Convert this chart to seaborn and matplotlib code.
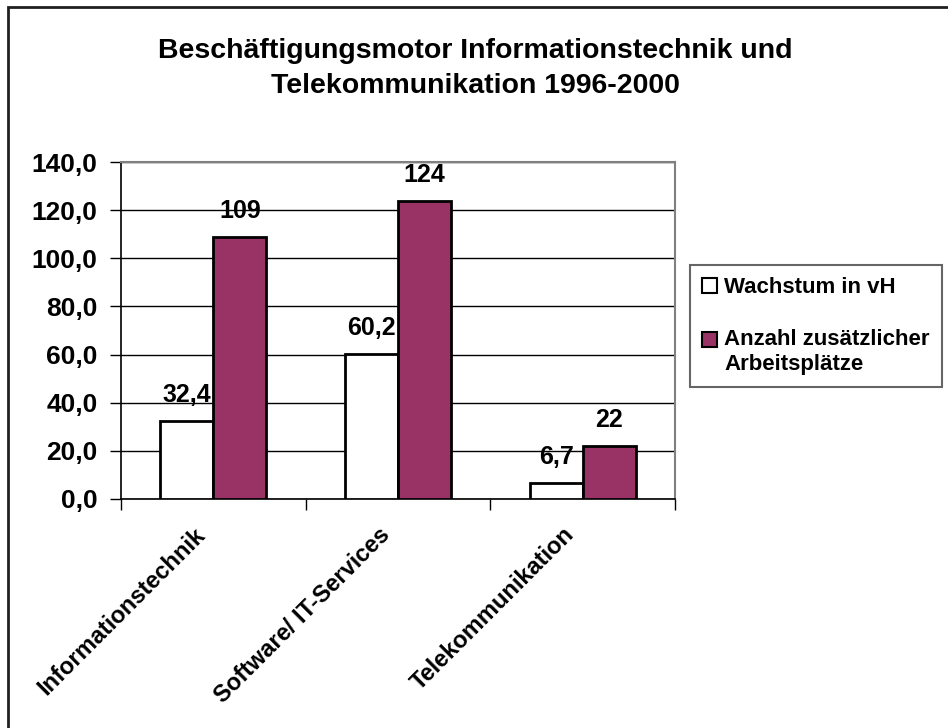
import matplotlib
matplotlib.use("Agg")
import matplotlib.pyplot as plt
import matplotlib.transforms as mtransforms
import pandas as pd
import seaborn as sns
from matplotlib.patches import Patch, Rectangle
from matplotlib.ticker import FuncFormatter

# data
categories = ["Informationstechnik", "Software/ IT-Services", "Telekommunikation"]
series = ["Wachstum in vH", "Anzahl zusätzlicher\nArbeitsplätze"]
wachstum = [32.4, 60.2, 6.7]
arbeitsplaetze = [109, 124, 22]
colors = ["#FFFFFF", "#993366"]

df = pd.DataFrame({
    "kategorie": categories * 2,
    "reihe": [series[0]] * 3 + [series[1]] * 3,
    "wert": wachstum + arbeitsplaetze,
})

sns.set_style("white")
plt.rcParams["font.family"] = ["Liberation Sans", "DejaVu Sans"]
plt.rcParams["font.weight"] = "bold"
plt.rcParams["text.color"] = "black"
plt.rcParams["xtick.color"] = "black"
plt.rcParams["ytick.color"] = "black"
plt.rcParams["axes.labelcolor"] = "black"

fig = plt.figure(figsize=(9.48, 7.28), dpi=100)
ax = fig.add_axes([121 / 948, 1 - 499 / 728, (675 - 121) / 948, (499 - 162) / 728])

sns.barplot(data=df, x="kategorie", y="wert", hue="reihe", order=categories,
            hue_order=series, palette=colors, width=0.573, gap=0,
            edgecolor="black", linewidth=2, saturation=1, legend=False, ax=ax, zorder=3)

ax.set_ylim(0, 140)
ax.set_xlim(-0.5, 2.5)
ax.set_yticks(range(0, 141, 20))
ax.yaxis.set_major_formatter(FuncFormatter(lambda v, p: f"{v:.1f}".replace(".", ",")))
ax.grid(axis="y", color="black", lw=1, zorder=0)
ax.set_xlabel("")
ax.set_ylabel("")

# value labels
fmt_a = [f"{v:.1f}".replace(".", ",") for v in wachstum]
fmt_b = [f"{v:.0f}" for v in arbeitsplaetze]
ax.bar_label(ax.containers[0], labels=fmt_a, padding=10, fontsize=18, fontweight="bold")
ax.bar_label(ax.containers[1], labels=fmt_b, padding=10, fontsize=18, fontweight="bold")

# axis styling like the old Excel chart
for s in ["top", "right"]:
    ax.spines[s].set_color("#808080")
    ax.spines[s].set_linewidth(1.5)
for s in ["left", "bottom"]:
    ax.spines[s].set_color("black")
    ax.spines[s].set_linewidth(1.2)

ax.tick_params(axis="y", which="major", direction="out", length=8, width=1, pad=9,
               labelsize=19, left=True)
ax.set_xticks(range(len(categories)))
ax.set_xticklabels(categories, rotation=45, ha="right", va="center",
                   rotation_mode="anchor", fontsize=17, fontweight="bold")
ax.tick_params(axis="x", which="major", length=0, pad=26)
shift = mtransforms.ScaledTranslation(-12 / 100, 4 / 100, fig.dpi_scale_trans)
for lab in ax.get_xticklabels():
    lab.set_transform(lab.get_transform() + shift)
ax.set_xticks([-0.5, 0.5, 1.5, 2.5], minor=True)
ax.tick_params(axis="x", which="minor", direction="out", length=8, width=1, bottom=True)

# legend
handles = [Patch(facecolor=c, edgecolor="black", linewidth=1.5) for c in colors]
leg = fig.legend(handles, series, loc="upper left",
                 bbox_to_anchor=(690 / 948, 1 - 265 / 728), fontsize=16,
                 frameon=True, fancybox=False, edgecolor="#404040",
                 handlelength=0.68, handleheight=0.68, handletextpad=0.3,
                 labelspacing=1.4, borderpad=0.55, borderaxespad=0)
leg.get_frame().set_linewidth(1.5)
# the two-line entry has its square next to the first line
sq = leg.legend_handles[1]
sq.set_y(sq.get_y() + 9)

fig.text(0.501, 0.906, "Beschäftigungsmotor Informationstechnik und\nTelekommunikation 1996-2000",
         ha="center", va="center", fontsize=20.5, fontweight="bold", linespacing=1.45)

# outer chart border
fig.patches.append(Rectangle((8 / 948, -0.1), 1.2, 0.1 + 1 - 7 / 728, transform=fig.transFigure,
                             fill=False, edgecolor="#202020", linewidth=2))

fig.savefig("out.png", dpi=100)
